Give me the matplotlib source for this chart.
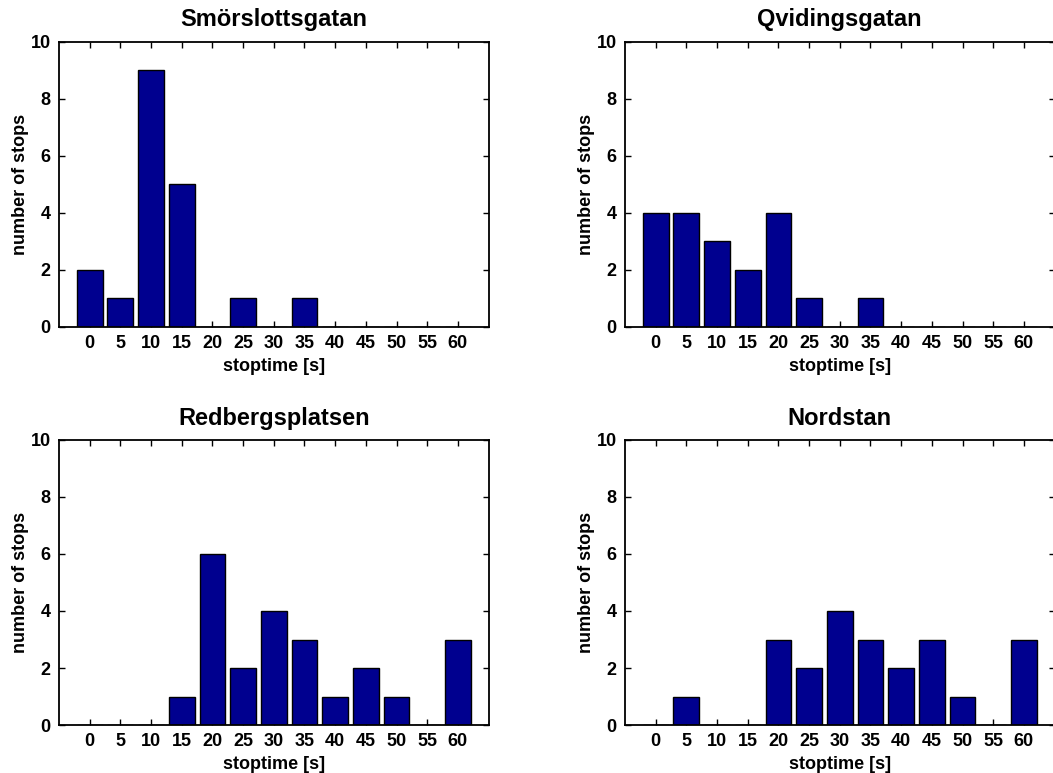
import matplotlib
matplotlib.use("Agg")
import matplotlib.pyplot as plt

# bin centres (stop time in seconds)
stoptime = [0, 5, 10, 15, 20, 25, 30, 35, 40, 45, 50, 55, 60]

# number of stops per bin at each station
smorslottsgatan = [2, 1, 9, 5, 0, 1, 0, 1, 0, 0, 0, 0, 0]
qvidingsgatan = [4, 4, 3, 2, 4, 1, 0, 1, 0, 0, 0, 0, 0]
redbergsplatsen = [0, 0, 0, 1, 6, 2, 4, 3, 1, 2, 1, 0, 3]
nordstan = [0, 1, 0, 0, 3, 2, 4, 3, 2, 3, 1, 0, 3]

stations = ["Smörslottsgatan", "Qvidingsgatan", "Redbergsplatsen", "Nordstan"]
counts = [smorslottsgatan, qvidingsgatan, redbergsplatsen, nordstan]

plt.rcParams["font.family"] = ["Liberation Sans", "DejaVu Sans"]
plt.rcParams["font.weight"] = "bold"

fig = plt.figure(figsize=(10.53, 7.73), dpi=100)

# axes boxes [left, bottom, width, height]; right column runs slightly off the page
boxes = [
    [0.056, 0.577, 0.408, 0.369],
    [0.5935, 0.577, 0.408, 0.369],
    [0.056, 0.062, 0.408, 0.369],
    [0.5935, 0.062, 0.408, 0.369],
]

for box, name, c in zip(boxes, stations, counts):
    ax = fig.add_axes(box)
    ax.bar(stoptime, c, width=4.2, color=(0, 0, 0.5625),
           edgecolor="black", linewidth=1.0, zorder=2)
    ax.set_xlim(-5, 65)
    ax.set_ylim(0, 10)
    ax.set_xticks(stoptime)
    ax.set_yticks(range(0, 11, 2))
    ax.tick_params(direction="in", top=True, right=True, length=4,
                   width=1.0, labelsize=13, pad=6)
    for lbl in ax.get_xticklabels() + ax.get_yticklabels():
        lbl.set_fontweight("bold")
    for s in ax.spines.values():
        s.set_linewidth(1.3)
    ax.set_title(name, fontsize=17, fontweight="bold", pad=11)
    ax.set_xlabel("stoptime [s]", fontsize=13, fontweight="bold", labelpad=4)
    ax.set_ylabel("number of stops", fontsize=13, fontweight="bold", labelpad=1)

fig.savefig("out.png", dpi=100)
